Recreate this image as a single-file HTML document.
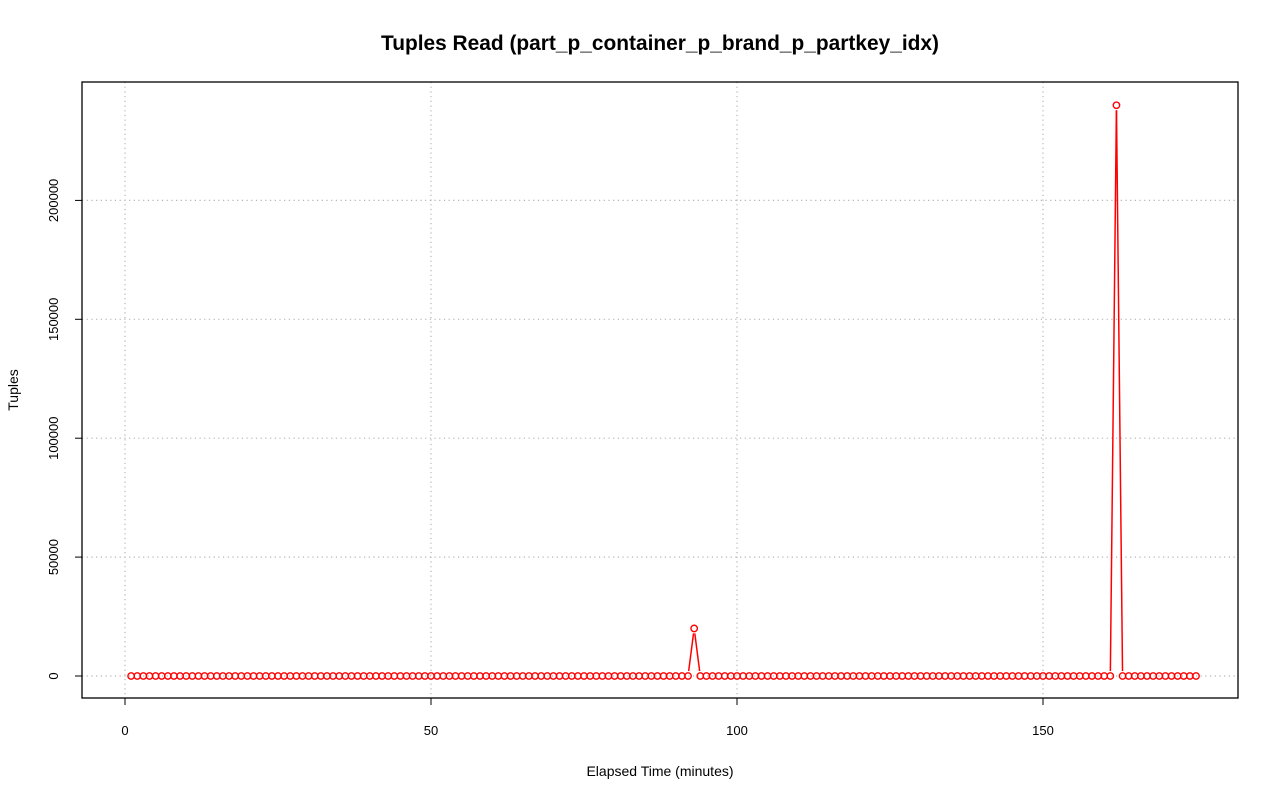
<!DOCTYPE html>
<html><head><meta charset="utf-8"><style>
body{margin:0;background:#fff}
svg text{font-family:"Liberation Sans",Arial,sans-serif}
</style></head><body>
<svg id="chart" width="1280" height="801" xmlns="http://www.w3.org/2000/svg">
<rect width="1280" height="801" fill="#fff"/>
<text x="660" y="50" font-size="20.9" font-weight="bold" text-anchor="middle">Tuples Read (part_p_container_p_brand_p_partkey_idx)</text>
<text x="660" y="776" font-size="14" text-anchor="middle">Elapsed Time (minutes)</text>
<text x="18" y="390" font-size="14" text-anchor="middle" transform="rotate(-90 18 390)">Tuples</text>
<g id="grid"></g><g id="axes"></g><g id="series"></g>
<rect x="82" y="82" width="1156" height="616" fill="none" stroke="#000" stroke-width="1.3"/>
</svg>
<script>
const xTicks=[0,50,100,150];
const yTicks=[0,50000,100000,150000,200000];
const spikeMinutes=[93,162];
const spikeValues=[20000,240000];
const firstMinute=1, lastMinute=175;
const xs=[],ys=[];
for(let m=firstMinute;m<=lastMinute;m++){xs.push(m);const i=spikeMinutes.indexOf(m);ys.push(i>=0?spikeValues[i]:0);}
const sx=v=>125+v*6.12, sy=v=>676-v*0.002378;
const NS="http://www.w3.org/2000/svg";
function mk(t,a,p){const e=document.createElementNS(NS,t);for(const k in a)e.setAttribute(k,a[k]);p.appendChild(e);return e;}
const grid=document.getElementById('grid'),axes=document.getElementById('axes'),ser=document.getElementById('series');
xTicks.forEach(t=>{
 const g=mk('line',{x1:sx(t),x2:sx(t),y1:82,y2:698,stroke:'#b4b4b4','stroke-width':1.2,'stroke-dasharray':'1.2,3.5'},grid);
 
 
 const k=mk('line',{x1:sx(t),x2:sx(t),y1:698,y2:705,stroke:'#000'},axes);
 
 
 const l=mk('text',{x:sx(t),y:735,'font-size':13,'text-anchor':'middle'},axes);l.textContent=t;
 
 
});
yTicks.forEach(t=>{
 const g=mk('line',{x1:82,x2:1238,y1:sy(t),y2:sy(t),stroke:'#b4b4b4','stroke-width':1.2,'stroke-dasharray':'1.2,3.5'},grid);
 
 
 const k=mk('line',{x1:75,x2:82,y1:sy(t),y2:sy(t),stroke:'#000'},axes);
 
 
 const l=mk('text',{x:58,y:sy(t),'font-size':13,'text-anchor':'middle',transform:`rotate(-90 58 ${sy(t)})`},axes);l.textContent=t;
 
 
});
const gap=5;
for(let i=0;i<xs.length-1;i++){
 const x1=sx(xs[i]),y1=sy(ys[i]),x2=sx(xs[i+1]),y2=sy(ys[i+1]);
 const d=Math.hypot(x2-x1,y2-y1);if(d<=2*gap)continue;
 const ux=(x2-x1)/d,uy=(y2-y1)/d;
 const s=mk('line',{x1:x1+ux*gap,y1:y1+uy*gap,x2:x2-ux*gap,y2:y2-uy*gap,stroke:'#f00','stroke-width':1.5},ser);
 
 
}
xs.forEach((x,i)=>{
 const c=mk('circle',{cx:sx(x),cy:sy(ys[i]),r:3.2,fill:'none',stroke:'#f00','stroke-width':1.4},ser);
 
 
});
</script>
</body></html>
